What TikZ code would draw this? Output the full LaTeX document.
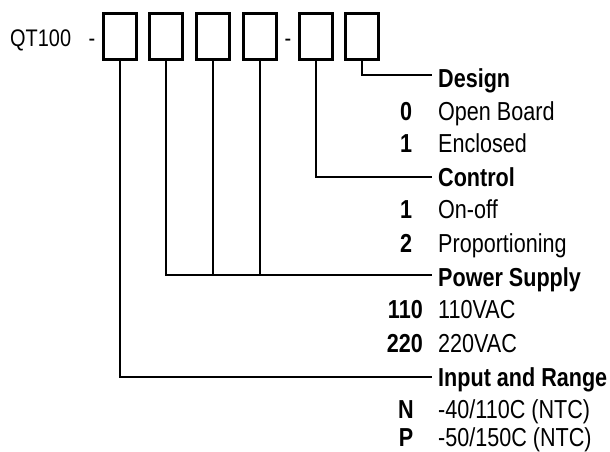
\documentclass[tikz,border=0pt]{standalone}
\usepackage{fontspec}
\setmainfont{Liberation Sans}[FakeStretch=0.83]
\begin{document}
\begin{tikzpicture}[x=1pt,y=1pt,
  box/.style={draw, line width=3pt, minimum width=33pt, minimum height=46pt, inner sep=0pt},
  txt/.style={inner sep=0pt, font=\fontsize{26}{30}\selectfont},
  head/.style={txt, anchor=base west, font=\fontsize{26}{30}\selectfont\bfseries},
  desc/.style={txt, anchor=base west},
  code/.style={txt, anchor=base, font=\fontsize{26}{30}\selectfont\bfseries},
  codew/.style={txt, anchor=base east, font=\fontsize{26}{30}\selectfont\bfseries},
  qtstyle/.style={inner sep=0pt, font=\fontsize{24}{28}\selectfont},
  conn/.style={line width=1.3pt}
]
\useasboundingbox (0,0) rectangle (610,-452);
\node[qtstyle, anchor=base west] (qt) at (10,-47) {QT100};
\node[qtstyle, anchor=base] (d1) at (92,-47) {-};
\node[qtstyle, anchor=base] (d2) at (288,-47) {-};
\node[box] (b1) at (120,-37) {};
\node[box] (b2) at (166,-37) {};
\node[box] (b3) at (213,-37) {};
\node[box] (b4) at (260,-37) {};
\node[box] (b5) at (316,-37) {};
\node[box] (b6) at (362,-37) {};
% Design
\node[head] (design) at (438,-87) {Design};
\node[code] (c0) at (406,-120) {0};
\node[desc] (t0) at (438,-120) {Open Board};
\node[code] (c1) at (406,-152) {1};
\node[desc] (t1) at (438,-152) {Enclosed};
% Control
\node[head] (control) at (438,-186) {Control};
\node[code] (c2) at (406,-218) {1};
\node[desc] (t2) at (438,-218) {On-off};
\node[code] (c3) at (406,-252) {2};
\node[desc] (t3) at (438,-252) {Proportioning};
% Power
\node[head] (power) at (438,-286) {Power Supply};
\node[codew] (c4) at (423,-318) {110};
\node[desc] (t4) at (438,-318) {110VAC};
\node[codew] (c5) at (423,-352) {220};
\node[desc] (t5) at (438,-352) {220VAC};
% Input
\node[head] (input) at (438,-386) {Input and Range};
\node[code] (c6) at (406,-418) {N};
\node[desc] (t6) at (438,-418) {-40/110C (NTC)};
\node[code] (c7) at (406,-446) {P};
\node[desc] (t7) at (438,-446) {-50/150C (NTC)};
% connectors
\coordinate (de) at ([shift={(-6pt,12pt)}]design.base west);
\coordinate (ce) at ([shift={(-6pt,9pt)}]control.base west);
\coordinate (pe) at ([shift={(-6pt,11pt)}]power.base west);
\coordinate (ie) at ([shift={(-6pt,9pt)}]input.base west);
\draw[conn] (b6.south) |- (de);
\draw[conn] (b5.south) |- (ce);
\draw[conn] (b2.south) |- (pe);
\draw[conn] (b3.south) -- (b3.south |- pe);
\draw[conn] (b4.south) -- (b4.south |- pe);
\draw[conn] (b1.south) |- (ie);
\end{tikzpicture}
\end{document}
